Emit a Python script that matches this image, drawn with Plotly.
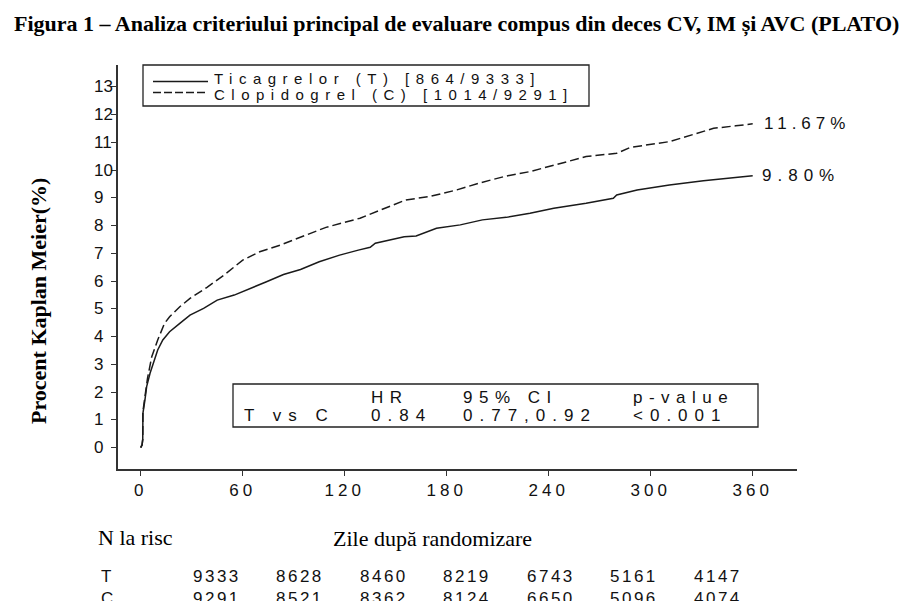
import plotly.graph_objects as go

# ---------------- data ----------------
t_days = [0, 0.8, 1.2, 1.3, 2.5, 3.5, 5.5, 7.5, 10, 13, 17, 23, 29, 37, 45, 55, 64, 74, 84, 94,
          105, 117, 128, 135, 138, 155, 162, 174, 188, 201, 215, 229, 243, 262, 278, 280, 292,
          311, 331, 345, 360]
t_vals = [0, 0.1, 0.3, 1.24, 1.72, 2.2, 2.68, 3.04, 3.52, 3.88, 4.18, 4.48, 4.78, 5.02, 5.32,
          5.50, 5.74, 5.98, 6.24, 6.42, 6.70, 6.94, 7.12, 7.22, 7.37, 7.60, 7.63, 7.91, 8.03,
          8.21, 8.30, 8.45, 8.63, 8.81, 8.99, 9.11, 9.29, 9.47, 9.62, 9.70, 9.80]

c_days = [0, 0.8, 1.2, 1.3, 2.5, 4, 6.5, 10, 14, 17, 23, 29, 39, 49, 60, 70, 82, 95, 109, 129,
          141, 156, 170, 186, 200, 215, 229, 243, 262, 280, 288, 311, 321, 337, 350, 360]
c_vals = [0, 0.1, 0.3, 1.3, 1.84, 2.5, 3.28, 3.88, 4.48, 4.72, 5.08, 5.38, 5.78, 6.22, 6.76,
          7.06, 7.30, 7.60, 7.94, 8.27, 8.57, 8.93, 9.05, 9.29, 9.55, 9.79, 9.95, 10.19, 10.49,
          10.61, 10.82, 11.03, 11.21, 11.51, 11.60, 11.67]

x_ticks = [0, 60, 120, 180, 240, 300, 360]
y_ticks = list(range(0, 14))

legend_t = "Ticagrelor (T) [864/9333]"
legend_c = "Clopidogrel (C) [1014/9291]"
end_t = "9.80%"
end_c = "11.67%"

hr_header = ["HR", "95% CI", "p-value"]
hr_row = ["T vs C", "0.84", "0.77,0.92", "<0.001"]

risk_groups = ["T", "C"]
risk_t = [9333, 8628, 8460, 8219, 6743, 5161, 4147]
risk_c = [9291, 8521, 8362, 8124, 6650, 5096, 4074]

title = "Figura 1 – Analiza criteriului principal de evaluare compus din deces CV, IM și AVC (PLATO)"
y_title = "Procent Kaplan Meier(%)"
x_title = "Zile după randomizare"
risk_title = "N la risc"

# ---------------- layout geometry (reference pixels) ----------------
OFF = 8                      # page body margin of the html page
W, H = 915 - OFF, 601 - OFF  # figure size so that it fills the window
L, R, T, B = 118, 797, 65, 469
X0PX, XPERDAY = 140.7, 1.7
Y0PX, YPERUNIT = 447.7, 27.75

def px_x(px):
    return (px - L) / (R - L)

def px_y(py):
    return (B - py) / (B - T)

SANS = "Liberation Sans, Arial, sans-serif"
SERIF = "Liberation Serif, Times New Roman, serif"
INK = "#111111"

def sp(text, s):
    return '<span style="letter-spacing:%spx">%s</span>' % (s, text)

fig = go.Figure()
fig.add_trace(go.Scatter(x=t_days, y=t_vals, mode="lines", name="Ticagrelor (T)",
                         line=dict(color="#1a1a1a", width=1.5), showlegend=False))
fig.add_trace(go.Scatter(x=c_days, y=c_vals, mode="lines", name="Clopidogrel (C)",
                         line=dict(color="#1a1a1a", width=1.5, dash="9px,4px"), showlegend=False))

ann = []
# title
ann.append(dict(text="<b>%s</b>" % title, x=px_x(456), y=px_y(24), xref="paper", yref="paper",
                showarrow=False, xanchor="center", yanchor="middle",
                font=dict(family=SERIF, size=22, color="black")))
# y title
ann.append(dict(text="<b>%s</b>" % y_title, x=px_x(38), y=px_y(301), xref="paper", yref="paper",
                showarrow=False, textangle=-90, xanchor="center", yanchor="middle",
                font=dict(family=SERIF, size=22, color="black")))
# y tick labels (left aligned)
for v in y_ticks:
    ann.append(dict(text=str(v), x=px_x(92), y=v, xref="paper", yref="y",
                    showarrow=False, xanchor="left", yanchor="middle",
                    font=dict(family=SANS, size=17, color=INK)))
# legend box text
ann.append(dict(text=sp(legend_t, 6.5), x=px_x(212), y=px_y(78.5), xref="paper", yref="paper",
                showarrow=False, xanchor="left", yanchor="middle",
                font=dict(family=SANS, size=15, color=INK)))
ann.append(dict(text=sp(legend_c, 6.5), x=px_x(212), y=px_y(95), xref="paper", yref="paper",
                showarrow=False, xanchor="left", yanchor="middle",
                font=dict(family=SANS, size=15, color=INK)))
# end labels
ann.append(dict(text=sp(end_c, 5), x=t_days[-1], y=c_vals[-1], xref="x", yref="y", xshift=9,
                showarrow=False, xanchor="left", yanchor="middle",
                font=dict(family=SANS, size=17, color=INK)))
ann.append(dict(text=sp(end_t, 6), x=t_days[-1], y=t_vals[-1], xref="x", yref="y", xshift=7,
                showarrow=False, xanchor="left", yanchor="middle",
                font=dict(family=SANS, size=17, color=INK)))
# HR box
hdr_x = [369, 461, 631]
for txt, xp in zip(hr_header, hdr_x):
    ann.append(dict(text=sp(txt, 6.5), x=px_x(xp), y=px_y(397), xref="paper", yref="paper",
                    showarrow=False, xanchor="left", yanchor="middle",
                    font=dict(family=SANS, size=17, color=INK)))
row_x = [242, 369, 461, 631]
for txt, xp in zip(hr_row, row_x):
    ann.append(dict(text=sp(txt, 7), x=px_x(xp), y=px_y(415), xref="paper", yref="paper",
                    showarrow=False, xanchor="left", yanchor="middle",
                    font=dict(family=SANS, size=17, color=INK)))
# bottom texts
ann.append(dict(text=risk_title, x=px_x(96), y=px_y(537), xref="paper", yref="paper",
                showarrow=False, xanchor="left", yanchor="middle",
                font=dict(family=SERIF, size=22, color="black")))
ann.append(dict(text=x_title, x=px_x(331), y=px_y(538), xref="paper", yref="paper",
                showarrow=False, xanchor="left", yanchor="middle",
                font=dict(family=SERIF, size=22, color="black")))
# at-risk table
for gi, (grp, counts) in enumerate(zip(risk_groups, [risk_t, risk_c])):
    yrow = 576 + gi * 22
    ann.append(dict(text=grp, x=px_x(99), y=px_y(yrow), xref="paper", yref="paper",
                    showarrow=False, xanchor="left", yanchor="middle",
                    font=dict(family=SANS, size=17, color=INK)))
    for i, n in enumerate(counts):
        ann.append(dict(text=sp(str(n), 2.5), x=px_x(190.5 + i * 83.5), y=px_y(yrow),
                        xref="paper", yref="paper", showarrow=False,
                        xanchor="left", yanchor="middle",
                        font=dict(family=SANS, size=17, color=INK)))

shapes = [
    dict(type="rect", xref="paper", yref="paper", x0=px_x(143), x1=px_x(589),
         y0=px_y(65), y1=px_y(106), line=dict(color="#222", width=1.3)),
    dict(type="line", xref="paper", yref="paper", x0=px_x(153), x1=px_x(208),
         y0=px_y(81.5), y1=px_y(81.5), line=dict(color="#1a1a1a", width=1.3)),
    dict(type="line", xref="paper", yref="paper", x0=px_x(153), x1=px_x(208),
         y0=px_y(92.5), y1=px_y(92.5), line=dict(color="#1a1a1a", width=1.3, dash="8px,3px")),
    dict(type="rect", xref="paper", yref="paper", x0=px_x(233), x1=px_x(758),
         y0=px_y(384), y1=px_y(427), line=dict(color="#222", width=1.3)),
]

x_range = [(L - X0PX) / XPERDAY, (R - X0PX) / XPERDAY]
y_range = [(Y0PX - B) / YPERUNIT, (Y0PX - T) / YPERUNIT]

fig.update_layout(
    width=W, height=H,
    margin=dict(l=L - OFF, r=W - (R - OFF), t=T - OFF, b=H - (B - OFF), pad=0),
    paper_bgcolor="white", plot_bgcolor="white",
    annotations=ann, shapes=shapes,
    xaxis=dict(range=x_range, showgrid=False, zeroline=False, showline=True,
               linecolor="#333", linewidth=1.5, ticks="outside", ticklen=5, tickwidth=1.3,
               tickcolor="#333", tickvals=x_ticks,
               ticktext=[sp(str(v), 4) for v in x_ticks],
               tickfont=dict(family=SANS, size=17, color=INK), ticklabelstandoff=0,
               fixedrange=True),
    yaxis=dict(range=y_range, showgrid=False, zeroline=False, showline=True,
               linecolor="#333", linewidth=1.5, ticks="outside", ticklen=5, tickwidth=1.3,
               tickcolor="#333", tickvals=y_ticks, showticklabels=False, fixedrange=True),
)

fig.write_html("out.html")
